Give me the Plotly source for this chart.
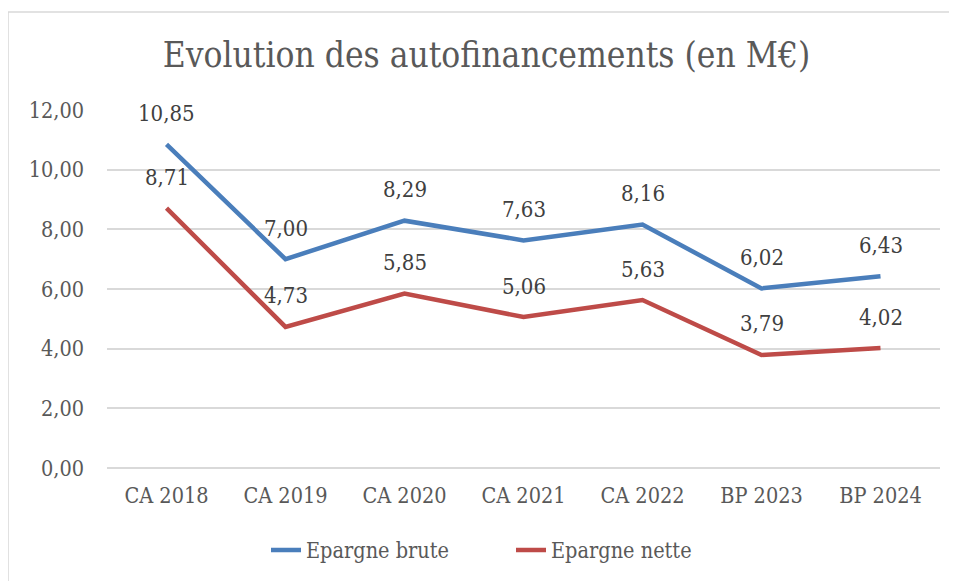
import plotly.graph_objects as go

categories = ["CA 2018", "CA 2019", "CA 2020", "CA 2021", "CA 2022", "BP 2023", "BP 2024"]
epargne_brute = [10.85, 7.00, 8.29, 7.63, 8.16, 6.02, 6.43]
epargne_nette = [8.71, 4.73, 5.85, 5.06, 5.63, 3.79, 4.02]
y_ticks = [0, 2, 4, 6, 8, 10, 12]

FONT = "DejaVu Serif Condensed, Liberation Serif, serif"
GREY = "#595959"
BLUE = "#4A7EBB"
RED = "#BE4B48"

def fmt(v):
    return f"{v:.2f}".replace(".", ",")

fig = go.Figure()
fig.add_trace(go.Scatter(x=categories, y=epargne_brute, mode="lines", name="Epargne brute",
                         line=dict(color=BLUE, width=4.5)))
fig.add_trace(go.Scatter(x=categories, y=epargne_nette, mode="lines", name="Epargne nette",
                         line=dict(color=RED, width=4.5)))

for series in (epargne_brute, epargne_nette):
    for c, v in zip(categories, series):
        fig.add_annotation(x=c, y=v, text=fmt(v), showarrow=False, yshift=31,
                           font=dict(family=FONT, size=22, color="#404040"))

fig.add_shape(type="rect", xref="paper", yref="paper", x0=-0.1188, x1=1.03, y0=-0.35, y1=1.2737,
              line=dict(color="#D9D9D9", width=1.5), fillcolor="rgba(0,0,0,0)", layer="below")

fig.update_layout(
    width=957, height=581,
    margin=dict(l=99, r=25, t=102, b=121, autoexpand=False),
    paper_bgcolor="white", plot_bgcolor="white",
    separators=", ",
    title=dict(text="Evolution des autofinancements (en M€)", x=0.5, xanchor="center",
               y=0.92, yanchor="middle", automargin=False,
               font=dict(family=FONT, size=35, color=GREY)),
    showlegend=True,
    legend=dict(orientation="h", x=0.485, xanchor="center", y=-0.229, yanchor="middle",
                entrywidth=200, entrywidthmode="pixels",
                font=dict(family=FONT, size=21.5, color=GREY), traceorder="normal"),
    xaxis=dict(type="category", range=[-0.5, 6.5], showgrid=False, showline=False, zeroline=False,
               automargin=False,
               ticks="", tickfont=dict(family=FONT, size=21.5, color=GREY), ticklabelstandoff=12),
    yaxis=dict(range=[0, 12], tickvals=y_ticks, tickformat=".2f", showgrid=True, automargin=False,
               gridcolor="#D9D9D9", gridwidth=1.5, zeroline=True, zerolinecolor="#D9D9D9",
               zerolinewidth=1.5, showline=False, ticks="", ticklabelstandoff=22,
               tickfont=dict(family=FONT, size=21.5, color=GREY)),
)

fig.write_html("out.html")
